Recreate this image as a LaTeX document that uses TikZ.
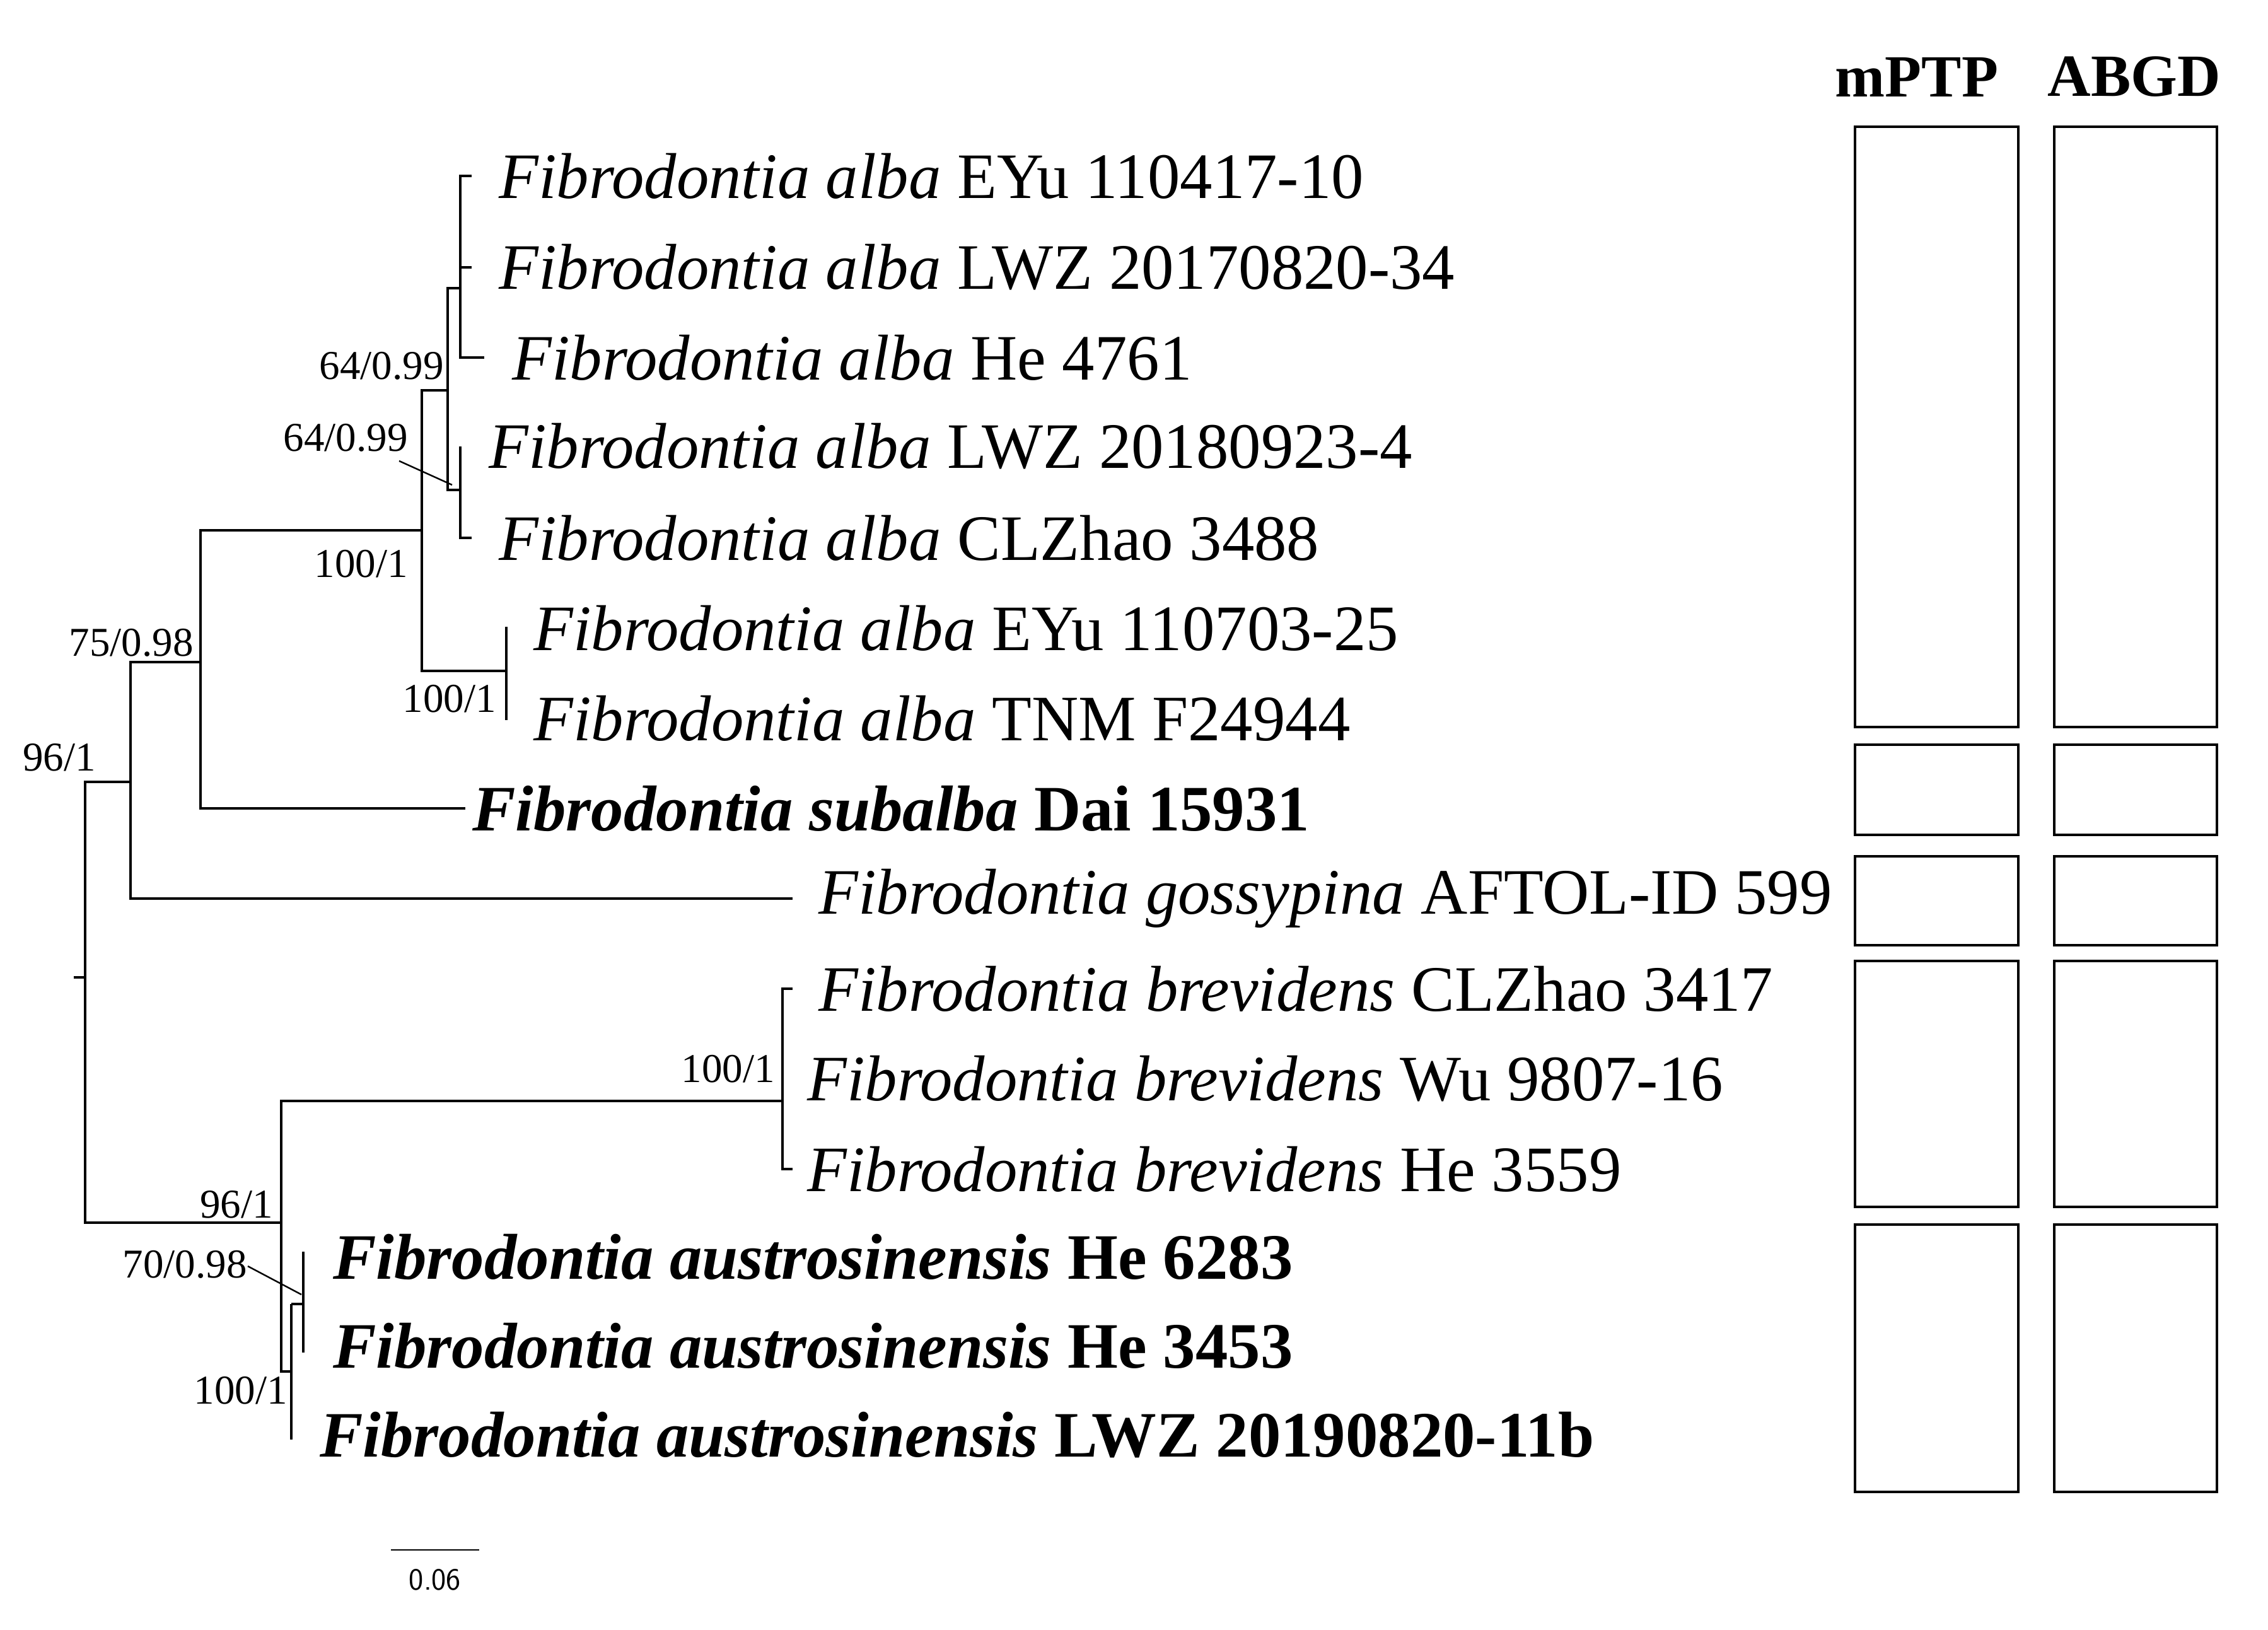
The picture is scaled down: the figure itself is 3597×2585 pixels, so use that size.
\documentclass[tikz,border=0pt]{standalone}
\usepackage{fontspec}
\setmainfont{Liberation Serif}
\begin{document}
\begin{tikzpicture}[x=0.02cm,y=-0.02cm,
  br/.style={line width=2.2pt},
  bx/.style={draw,line width=2.6pt},
  tx/.style={anchor=west,inner sep=0pt,font=\fontsize{58.5}{60}\selectfont},
  sup/.style={inner sep=0pt,font=\fontsize{37}{40}\selectfont},
  hd/.style={inner sep=0pt,font=\fontsize{54}{58}\selectfont\bfseries}]
\useasboundingbox (0,0) rectangle (3597,2585);
% root
\draw[br] (117,1550) -- (135,1550);
\draw[br] (207,1240) -- (135,1240) -- (135,1939) -- (446,1939);
% 75/0.98 node
\draw[br] (318,1050) -- (207,1050) -- (207,1425) -- (1257,1425);
% subalba node
\draw[br] (669,841) -- (318,841) -- (318,1282) -- (738,1282);
% alba clade A
\draw[br] (710,619) -- (669,619) -- (669,1064) -- (803,1064);
\draw[br] (803,994) -- (803,1142);
% C
\draw[br] (730,457) -- (710,457) -- (710,777) -- (730,777);
% D
\draw[br] (748,279) -- (730,279) -- (730,567) -- (768,567);
\draw[br] (730,424) -- (748,424);
% E
\draw[br] (730,708) -- (730,853) -- (748,853);
% bottom clade F
\draw[br] (1241,1746) -- (446,1746) -- (446,2175) -- (462,2175);
\draw[br] (1257,1568) -- (1241,1568) -- (1241,1854) -- (1257,1854);
% H and I
\draw[br] (462,2068) -- (462,2283);
\draw[br] (462,2068) -- (481,2068);
\draw[br] (481,1985) -- (481,2145);
% leaders
\draw[line width=1.4pt] (633,731) -- (717,769);
\draw[line width=1.4pt] (393,2008) -- (478,2053);
% support values
\node[sup,anchor=east] (s1) at (704,580) {64/0.99};
\node[sup,anchor=east] (s2) at (647,694) {64/0.99};
\node[sup,anchor=east] (s3) at (647,894) {100/1};
\node[sup,anchor=east] (s4) at (787,1108) {100/1};
\node[sup,anchor=east] (s5) at (307,1019) {75/0.98};
\node[sup,anchor=east] (s6) at (152,1201) {96/1};
\node[sup,anchor=east] (s7) at (1229,1695) {100/1};
\node[sup,anchor=east] (s8) at (433,1910) {96/1};
\node[sup,anchor=east] (s9) at (392,2005) {70/0.98};
\node[sup,anchor=east] (s10) at (456,2205) {100/1};
% taxa
\node[tx] (t1) at (791,279) {\textit{Fibrodontia alba} EYu 110417-10};
\node[tx] (t2) at (791,424) {\textit{Fibrodontia alba} LWZ 20170820-34};
\node[tx] (t3) at (812,567) {\textit{Fibrodontia alba} He 4761};
\node[tx] (t4) at (775,708) {\textit{Fibrodontia alba} LWZ 20180923-4};
\node[tx] (t5) at (791,853) {\textit{Fibrodontia alba} CLZhao 3488};
\node[tx] (t6) at (846,996) {\textit{Fibrodontia alba} EYu 110703-25};
\node[tx] (t7) at (846,1139) {\textit{Fibrodontia alba} TNM F24944};
\node[tx] (t8) at (749,1282) {\textbf{\textit{Fibrodontia subalba} Dai 15931}};
\node[tx] (t9) at (1298,1425) {\textit{Fibrodontia gossypina} AFTOL-ID 599};
\node[tx] (t10) at (1298,1568) {\textit{Fibrodontia brevidens} CLZhao 3417};
\node[tx] (t11) at (1280,1711) {\textit{Fibrodontia brevidens} Wu 9807-16};
\node[tx] (t12) at (1280,1854) {\textit{Fibrodontia brevidens} He 3559};
\node[tx] (t13) at (528,1993) {\textbf{\textit{Fibrodontia austrosinensis} He 6283}};
\node[tx] (t14) at (528,2134) {\textbf{\textit{Fibrodontia austrosinensis} He 3453}};
\node[tx] (t15) at (507,2276) {\textbf{\textit{Fibrodontia austrosinensis} LWZ 20190820-11b}};
% scale bar
\draw[line width=1.4pt] (620,2458) -- (760,2458);
\node[inner sep=0pt,font=\sffamily\fontsize{28}{30}\selectfont] (sc) at (690,2505) {0.06};
% headers and boxes
\node[hd] (h1) at (3040,122) {mPTP};
\node[hd] (h2) at (3385,122) {ABGD};
\foreach \a/\b in {201/1153,1181/1324,1358/1499,1524/1914,1942/2366}{
  \draw[bx] (2942,\a) rectangle (3201,\b);
  \draw[bx] (3258,\a) rectangle (3516,\b);
}
\end{tikzpicture}
\end{document}
